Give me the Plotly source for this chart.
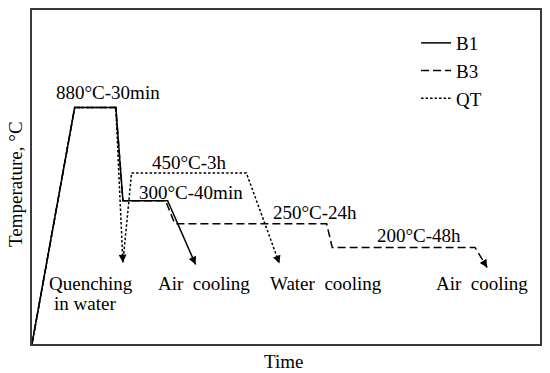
import math
import plotly.graph_objects as go

# Schematic heat-treatment routes (time and temperature in arbitrary schematic units)
series_names = ["B1", "B3", "QT"]
time_B1 = [0, 8.4, 16.5, 17.9, 26.7, 32.2]
temp_B1 = [0, 70.8, 70.8, 42.9, 42.9, 23.8]
time_B3 = [0, 8.4, 16.5, 17.9, 26.3, 28.1, 58.0, 59.1, 87.2, 89.6]
temp_B3 = [0, 70.8, 70.8, 42.9, 42.9, 36.0, 36.0, 28.9, 28.9, 22.9]
time_QT = [0, 8.4, 16.5, 17.9, 19.6, 42.2, 48.7]
temp_QT = [0, 70.8, 70.8, 24.4, 51.2, 51.2, 24.1]

stage_labels = ["880°C-30min", "450°C-3h", "300°C-40min", "250°C-24h", "200°C-48h"]
cooling_labels = ["Quenching", "in water", "Air  cooling", "Water  cooling", "Air  cooling"]

FONT = "Liberation Serif, Times New Roman, serif"
FS = 19
W, H = 550, 373
ML, MR, MT, MB = 32, 9, 8, 29
PX_X = (W - ML - MR) / 100.0
PX_Y = (H - MT - MB) / 100.0

fig = go.Figure()
styles = {"B1": "solid", "B3": "8px,4px", "QT": "2.5px,2px"}
data = {"B1": (time_B1, temp_B1), "B3": (time_B3, temp_B3), "QT": (time_QT, temp_QT)}
for name in series_names:
    xs, ys = data[name]
    fig.add_trace(go.Scatter(x=xs, y=ys, mode="lines", name=name,
                             line=dict(color="black", width=1.5, dash=styles[name])))

annotations = []

def arrow_at(xs, ys, i, shaft_px=9.0):
    # arrowhead at vertex i, pointing along the segment from vertex i-1
    x1, y1 = xs[i], ys[i]
    x0, y0 = xs[i - 1], ys[i - 1]
    dxp, dyp = (x0 - x1) * PX_X, (y0 - y1) * PX_Y
    L = math.hypot(dxp, dyp)
    ux, uy = dxp / L, dyp / L
    annotations.append(dict(x=x1, y=y1,
                            ax=x1 + ux * shaft_px / PX_X, ay=y1 + uy * shaft_px / PX_Y,
                            xref="x", yref="y", axref="x", ayref="y", text="",
                            showarrow=True, arrowhead=2, arrowsize=1.2, arrowwidth=1.3,
                            arrowcolor="black"))

arrow_at(time_B1, temp_B1, len(time_B1) - 1)
arrow_at(time_B3, temp_B3, len(time_B3) - 1)
arrow_at(time_QT, temp_QT, len(time_QT) - 1)
arrow_at(time_QT, temp_QT, 3)

stage_pos = [(14.9, 75.3), (31.0, 54.2), (31.2, 45.5), (55.7, 39.3), (76.2, 32.4)]
for t, (x, y) in zip(stage_labels, stage_pos):
    annotations.append(dict(x=x, y=y, xref="x", yref="y", text=t, showarrow=False,
                            font=dict(family=FONT, size=FS, color="black")))

cool_pos = [(11.7, 18.2), (10.5, 12.2), (33.8, 18.2), (57.8, 18.2), (88.6, 18.2)]
for t, (x, y) in zip(cooling_labels, cool_pos):
    annotations.append(dict(x=x, y=y, xref="x", yref="y", text=t.replace("  ", "\u00a0 "),
                            showarrow=False,
                            font=dict(family=FONT, size=FS, color="black")))

# axis titles
annotations.append(dict(x=-0.033, y=0.48, xref="paper", yref="paper", text="Temperature, °C",
                        textangle=-90, showarrow=False, xanchor="center", yanchor="middle",
                        font=dict(family=FONT, size=FS, color="black")))
annotations.append(dict(x=0.495, y=-0.052, xref="paper", yref="paper", text="Time",
                        showarrow=False, xanchor="center", yanchor="middle",
                        font=dict(family=FONT, size=FS, color="black")))

axis_common = dict(range=[0, 100], showgrid=False, zeroline=False, showticklabels=False,
                   ticks="", showline=True, linecolor="#3a3a3a", linewidth=1.5, mirror=True,
                   fixedrange=True)

fig.update_layout(
    width=W, height=H,
    margin=dict(l=ML, r=MR, t=MT, b=MB),
    paper_bgcolor="white", plot_bgcolor="white",
    xaxis=axis_common, yaxis=axis_common,
    annotations=annotations,
    showlegend=True,
    legend=dict(x=0.756, y=0.958, xanchor="left", yanchor="top",
                font=dict(family=FONT, size=FS, color="black"),
                bgcolor="rgba(0,0,0,0)", tracegroupgap=0, itemwidth=30),
)

fig.write_html("out.html", config={"displayModeBar": False},
               post_script="document.body.style.margin='0';document.body.style.overflow='hidden';")
